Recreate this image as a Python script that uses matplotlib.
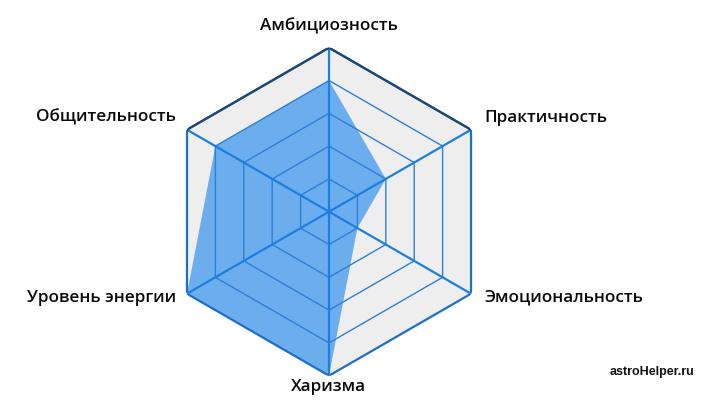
import numpy as np
import matplotlib
matplotlib.use("Agg")
import matplotlib.pyplot as plt

labels = ["Амбициозность", "Практичность", "Эмоциональность",
          "Харизма", "Уровень энергии", "Общительность"]
values = [4, 2, 1, 5, 5, 4]
levels = [1, 2, 3, 4, 5]

# label offsets in pixels from the outer vertex
offsets = [(0, 21), (13, 12), (13, -4), (0, -11), (-11, -4), (-11, 12)]
aligns = ["center", "left", "left", "center", "right", "right"]

plt.rcParams["font.family"] = ["Open Sans", "DejaVu Sans"]

fig = plt.figure(figsize=(7.07, 4.04), dpi=100)
ax = fig.add_axes([0.2334, 0.070, 0.4639, 0.8119], projection="polar")
ax.set_theta_offset(np.pi / 2)
ax.set_theta_direction(-1)
ax.set_ylim(0, levels[-1])
ax.patch.set_visible(False)
ax.spines["polar"].set_visible(False)
ax.grid(False)
ax.set_xticks([])
ax.set_yticks([])

n = len(labels)
theta = np.linspace(0, 2 * np.pi, n, endpoint=False)
theta_c = np.append(theta, theta[0])

# grey background of the hexagon
ax.fill(theta_c, [levels[-1]] * (n + 1), color="#eeeeee", zorder=0)

# data area
vals = np.append(values, values[0])
ax.fill(theta_c, vals, color="#3a95ee", alpha=0.72, lw=0, zorder=1)

# rings
for lv in levels[:-1]:
    ax.plot(theta_c, [lv] * (n + 1), color="#2f7fd6", lw=1.0, zorder=2)
ax.plot(theta_c, [levels[-1]] * (n + 1), color="#1c6fc8", lw=1.6, zorder=3)
# darker top edges
ax.plot([theta[5], theta[0], theta[1]], [levels[-1]] * 3, color="#1f4670", lw=1.6, zorder=4)

# spokes
for t in theta:
    ax.plot([t, t], [0, levels[-1]], color="#1b7fe0", lw=1.6, zorder=3)

for t, lab, off, ha in zip(theta, labels, offsets, aligns):
    ax.annotate(lab, xy=(t, levels[-1]), xytext=off, textcoords="offset pixels",
                ha=ha, va="center", fontsize=12.3, fontweight="semibold",
                color="#0a0a0a", annotation_clip=False)

fig.text(0.9215, 0.079, "astroHelper.ru", ha="center", va="center",
         fontsize=9, fontweight="bold", family="Liberation Sans", color="#111111")

fig.savefig("out.png", dpi=100, facecolor="white")
